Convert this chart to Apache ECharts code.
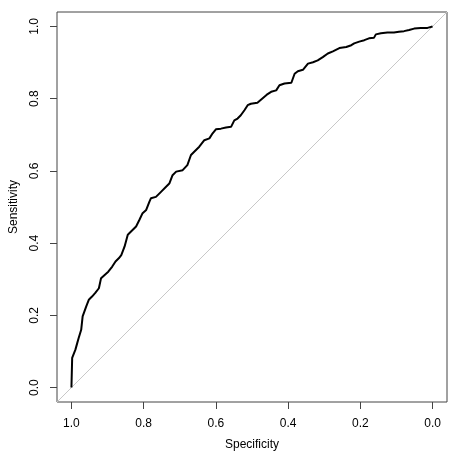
<!DOCTYPE html>
<html>
<head>
<meta charset="utf-8">
<script src="https://cdn.jsdelivr.net/npm/echarts@6/dist/echarts.min.js"></script>
<style>
html,body{margin:0;padding:0;background:#fff;}
#chart{width:459px;height:456px;}
</style>
</head>
<body>
<div id="chart"></div>
<script>
// ROC curve points
const specificity = [1.000,0.998,0.995,0.989,0.984,0.980,0.973,0.969,0.964,0.959,0.952,0.943,0.934,0.924,0.918,0.908,0.898,0.887,0.878,0.869,0.862,0.853,0.844,0.835,0.821,0.812,0.803,0.793,0.784,0.780,0.766,0.752,0.738,0.729,0.720,0.710,0.692,0.679,0.669,0.660,0.646,0.632,0.618,0.609,0.600,0.586,0.572,0.558,0.549,0.540,0.531,0.521,0.512,0.503,0.485,0.472,0.459,0.447,0.433,0.424,0.410,0.391,0.382,0.373,0.359,0.345,0.331,0.318,0.304,0.290,0.276,0.258,0.239,0.225,0.217,0.203,0.189,0.176,0.162,0.157,0.143,0.125,0.107,0.093,0.079,0.065,0.051,0.033,0.014,0.000];
const sensitivity = [0.000,0.082,0.086,0.105,0.123,0.137,0.160,0.197,0.211,0.225,0.243,0.252,0.262,0.275,0.303,0.312,0.321,0.335,0.349,0.358,0.367,0.390,0.423,0.432,0.446,0.464,0.483,0.492,0.515,0.524,0.528,0.542,0.556,0.565,0.588,0.598,0.602,0.616,0.644,0.653,0.667,0.685,0.690,0.704,0.715,0.717,0.720,0.722,0.740,0.745,0.754,0.768,0.782,0.786,0.789,0.800,0.811,0.819,0.823,0.837,0.842,0.844,0.869,0.876,0.880,0.897,0.901,0.906,0.915,0.925,0.931,0.940,0.943,0.948,0.953,0.958,0.962,0.967,0.969,0.978,0.981,0.983,0.983,0.985,0.987,0.990,0.994,0.996,0.996,1.000];
// chance diagonal (sensitivity = 1 - specificity) across the plot region
const diagonalSpec = [1.04, -0.04];
const diagonalSens = [-0.04, 1.04];
// tick labels
const tickValues = [0, 0.2, 0.4, 0.6, 0.8, 1.0];
const xTitle = 'Specificity';
const yTitle = 'Sensitivity';

const rocData = specificity.map((s, i) => [s, sensitivity[i]]);
const diagData = diagonalSpec.map((s, i) => [s, diagonalSens[i]]);

const font = 'Liberation Sans, Arial, Helvetica, sans-serif';
const chart = echarts.init(document.getElementById('chart'), null, {renderer: 'canvas'});
chart.setOption({
  animation: false,
  backgroundColor: '#fff',
  grid: {left: 57, top: 12, width: 390, height: 390, show: true, borderColor: '#444', borderWidth: 1, backgroundColor: 'transparent'},
  xAxis: {
    type: 'value', inverse: true, min: -0.04, max: 1.04, position: 'bottom',
    name: xTitle, nameLocation: 'middle', nameGap: 37,
    nameTextStyle: {fontFamily: font, fontSize: 12, color: '#000'},
    axisLine: {show: false, onZero: false},
    splitLine: {show: false},
    axisTick: {show: true, length: 7, inside: false, customValues: tickValues, lineStyle: {color: '#444', width: 1}},
    axisLabel: {customValues: tickValues, margin: 16, fontFamily: font, fontSize: 12, color: '#000', formatter: v => v.toFixed(1)}
  },
  yAxis: {
    type: 'value', min: -0.04, max: 1.04, position: 'left',
    name: yTitle, nameLocation: 'middle', nameGap: 37, nameRotate: 90,
    nameTextStyle: {fontFamily: font, fontSize: 12, color: '#000'},
    axisLine: {show: false, onZero: false},
    splitLine: {show: false},
    axisTick: {show: true, length: 7, inside: false, customValues: tickValues, lineStyle: {color: '#444', width: 1}},
    axisLabel: {customValues: tickValues, rotate: 90, margin: 16, fontFamily: font, fontSize: 12, color: '#000', formatter: v => v.toFixed(1)}
  },
  series: [
    {type: 'line', data: diagData, showSymbol: false, silent: true, lineStyle: {color: '#c8c8c8', width: 1}, clip: true},
    {type: 'line', data: rocData, showSymbol: false, silent: true, lineStyle: {color: '#000', width: 2}, clip: true}
  ]
});
</script>
</body>
</html>
